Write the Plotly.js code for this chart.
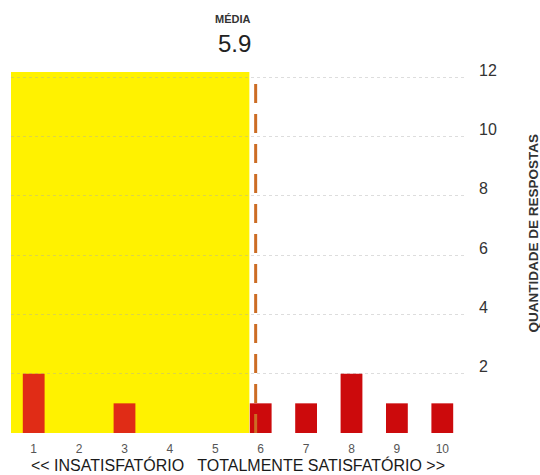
<!DOCTYPE html>
<html>
<head>
<meta charset="utf-8">
<script src="https://cdn.plot.ly/plotly-3.0.1.min.js"></script>
<style>html,body{margin:0;padding:0;background:#fff;}#chart{width:540px;height:475px;}</style>
</head>
<body>
<div id="chart"></div>
<script>
// Data
const scores = [1, 2, 3, 4, 5, 6, 7, 8, 9, 10];
const counts = [2, 0, 1, 0, 0, 1, 1, 2, 1, 1];
const yTicks = [2, 4, 6, 8, 10, 12];
const meanLabel = "MÉDIA";
const xTitle = "<< INSATISFATÓRIO   TOTALMENTE SATISFATÓRIO >>";
const yTitle = "QUANTIDADE DE RESPOSTAS";

// Mean computed from data
let tot = 0, n = 0;
scores.forEach((s, i) => { tot += s * counts[i]; n += counts[i]; });
const mean = tot / n;

const yellowEnd = 5.75;
const barColors = scores.map(s => s < yellowEnd ? '#e02c16' : '#cc0a0c');

const font = "'Liberation Sans', Arial, Helvetica, sans-serif";

const trace = {
  type: 'bar',
  x: scores,
  y: counts,
  width: 0.48,
  marker: { color: barColors, line: { width: 0 } },
  hoverinfo: 'x+y'
};

const layout = {
  width: 540, height: 475,
  margin: { l: 11, r: 75, t: 72, b: 42 },
  paper_bgcolor: '#ffffff',
  plot_bgcolor: '#ffffff',
  showlegend: false,
  font: { family: font, color: '#333' },
  xaxis: {
    range: [0.5, 10.5],
    tickvals: scores,
    ticktext: scores.map(String),
    showgrid: false, zeroline: false, showline: false, ticks: '',
    tickfont: { size: 12, color: '#555', family: font },
    ticklabelstandoff: 7,
    title: { text: xTitle, font: { size: 16, color: '#1a1a1a', family: font }, standoff: 4 },
    automargin: false
  },
  yaxis: {
    side: 'right',
    range: [0, 12.17],
    tickvals: yTicks,
    ticktext: yTicks.map(String),
    showgrid: true, gridcolor: 'rgba(170,170,170,0.4)', griddash: 'dot', gridwidth: 1,
    zeroline: false, showline: false, ticks: '',
    tickfont: { size: 16, color: '#333', family: font },
    ticklabelshift: -7,
    ticklabelstandoff: 13,
    automargin: false
  },
  shapes: [
    {
      type: 'rect', layer: 'below',
      xref: 'x', yref: 'paper',
      x0: 0.5, x1: yellowEnd, y0: 0, y1: 1,
      fillcolor: '#fff200', line: { width: 0 }
    },
    {
      type: 'line', layer: 'above',
      xref: 'x', yref: 'paper',
      x0: mean, x1: mean, y0: 0, y1: 0.97,
      line: { color: '#cc6c24', width: 3, dash: '19px,11px' }
    }
  ],
  annotations: [
    {
      xref: 'x', yref: 'paper', x: mean, y: 1,
      xshift: -23, yshift: 53,
      text: '<b>' + meanLabel + '</b>', showarrow: false,
      font: { size: 11, color: '#333', family: font },
      xanchor: 'center', yanchor: 'middle'
    },
    {
      xref: 'x', yref: 'paper', x: mean, y: 1,
      xshift: -21, yshift: 29,
      text: mean.toFixed(1), showarrow: false,
      font: { size: 24, color: '#222', family: font },
      xanchor: 'center', yanchor: 'middle'
    },
    {
      xref: 'paper', yref: 'paper', x: 1, y: 0.5,
      xshift: 68, yshift: 19,
      text: '<b>' + yTitle + '</b>', showarrow: false, textangle: -90,
      font: { size: 13.5, color: '#333', family: font },
      xanchor: 'center', yanchor: 'middle'
    }
  ]
};

Plotly.newPlot('chart', [trace], layout, { displayModeBar: false, staticPlot: true });
</script>
</body>
</html>
